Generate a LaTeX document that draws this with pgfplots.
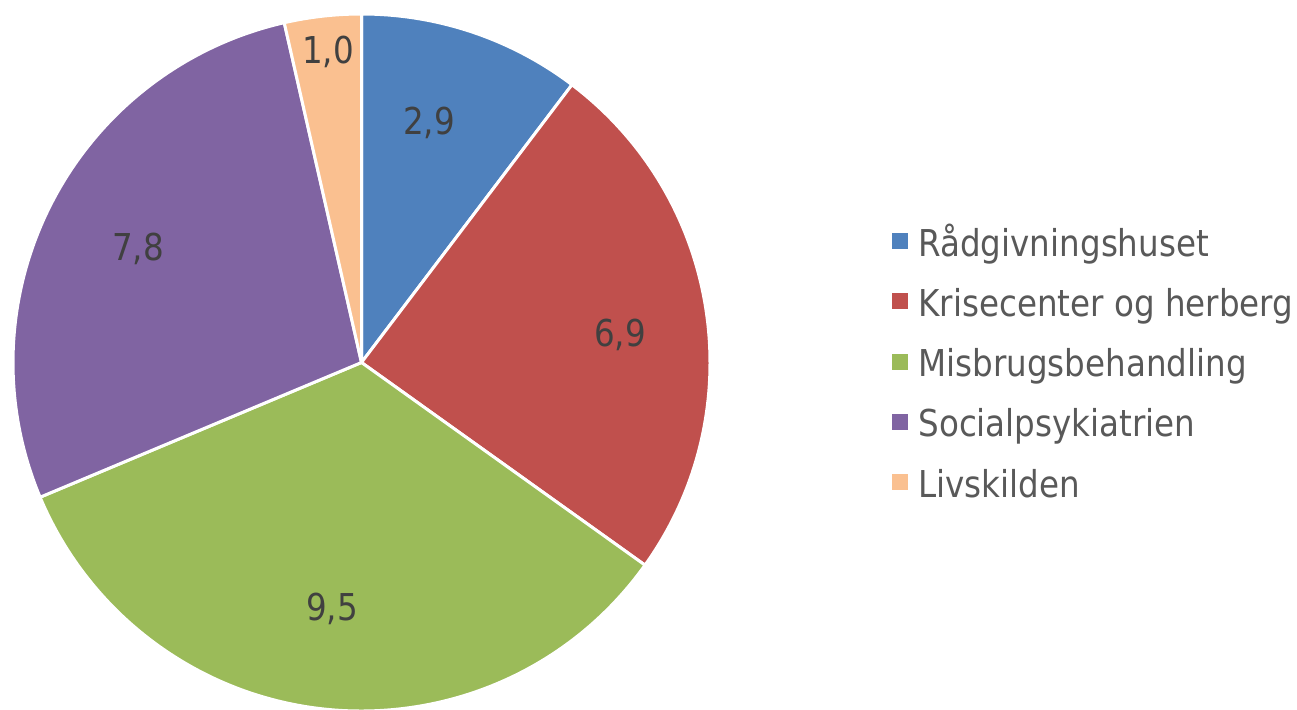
\documentclass[border=0pt]{standalone}
\usepackage{fontspec}
\setmainfont{DejaVu Sans}[FakeStretch=0.88]
\usepackage{pgfplots}
\usepackage{pgfplotstable}
\pgfplotsset{compat=1.18}
\definecolor{c0}{HTML}{4F81BD}
\definecolor{c1}{HTML}{C0504D}
\definecolor{c2}{HTML}{9BBB59}
\definecolor{c3}{HTML}{8064A2}
\definecolor{c4}{HTML}{FAC090}
\definecolor{lbl}{HTML}{404040}
\definecolor{leg}{HTML}{595959}
\pgfplotstableread[col sep=comma]{
name,value,lx,ly
Rådgivningshuset,2.9,429,588
Krisecenter og herberg,6.9,620,376
Misbrugsbehandling,9.5,332,102
Socialpsykiatrien,7.8,138,462
Livskilden,1.0,328,659
}\piedata
\begin{document}
\begin{tikzpicture}
\def\total{0}
\pgfplotsforeachungrouped \i in {0,...,4}{%
  \pgfplotstablegetelem{\i}{value}\of\piedata
  \pgfmathsetmacro\total{\total+\pgfplotsretval}%
}
\def\cum{0}
\pgfplotsforeachungrouped \i in {0,...,4}{%
  \pgfplotstablegetelem{\i}{value}\of\piedata
  \let\v\pgfplotsretval
  \expandafter\xdef\csname val\i\endcsname{\v}%
  \pgfmathsetmacro\sa{90-360*\cum/\total}%
  \pgfmathsetmacro\cum{\cum+\v}%
  \pgfmathsetmacro\ea{90-360*\cum/\total}%
  \expandafter\xdef\csname sa\i\endcsname{\sa}%
  \expandafter\xdef\csname ea\i\endcsname{\ea}%
  \pgfplotstablegetelem{\i}{lx}\of\piedata
  \expandafter\xdef\csname lx\i\endcsname{\pgfplotsretval}%
  \pgfplotstablegetelem{\i}{ly}\of\piedata
  \pgfmathsetmacro\tmp{\pgfplotsretval-13.5}%
  \expandafter\xdef\csname ly\i\endcsname{\tmp}%
  \pgfplotstablegetelem{\i}{name}\of\piedata
  \expandafter\xdef\csname nm\i\endcsname{\pgfplotsretval}%
  \pgfmathsetmacro\tmp{460-60.25*\i}%
  \expandafter\xdef\csname sqa\i\endcsname{\tmp}%
  \pgfmathsetmacro\tmp{476-60.25*\i}%
  \expandafter\xdef\csname sqb\i\endcsname{\tmp}%
  \pgfmathsetmacro\tmp{453-60.25*\i}%
  \expandafter\xdef\csname lgy\i\endcsname{\tmp}%
}
\begin{axis}[hide axis, scale only axis, width=648.5pt, height=354.5pt,
  xmin=0, xmax=1297, ymin=0, ymax=709, clip=false]
\addplot[draw=none] coordinates {(0,0) (1297,709)};
\coordinate (bl) at (axis cs:0,0);
\coordinate (tr) at (axis cs:1297,709);
\pgfplotsinvokeforeach{0,...,4}{
  \filldraw[fill=c#1, draw=white, line width=1.5pt, line join=round]
    (axis cs:361.5,346.5) -- ++(\csname sa#1\endcsname:174.25pt)
    arc[start angle=\csname sa#1\endcsname, end angle=\csname ea#1\endcsname, radius=174.25pt] -- cycle;
}
\pgfplotsinvokeforeach{0,...,4}{
  \node[anchor=base, text=lbl, inner sep=0pt, font=\fontsize{18.5}{22}\selectfont]
    at (axis cs:\csname lx#1\endcsname,\csname ly#1\endcsname)
    {\pgfmathprintnumber[fixed, fixed zerofill, precision=1, use comma, assume math mode=true]{\csname val#1\endcsname}};
  \fill[c#1] (axis cs:892,\csname sqa#1\endcsname) rectangle (axis cs:908,\csname sqb#1\endcsname);
  \node[anchor=base west, text=leg, inner sep=0pt, font=\fontsize{18.5}{22}\selectfont]
    at (axis cs:918,\csname lgy#1\endcsname) {\csname nm#1\endcsname};
}
\end{axis}
\pgfresetboundingbox
\path[use as bounding box] (bl) rectangle (tr);
\end{tikzpicture}
\end{document}
